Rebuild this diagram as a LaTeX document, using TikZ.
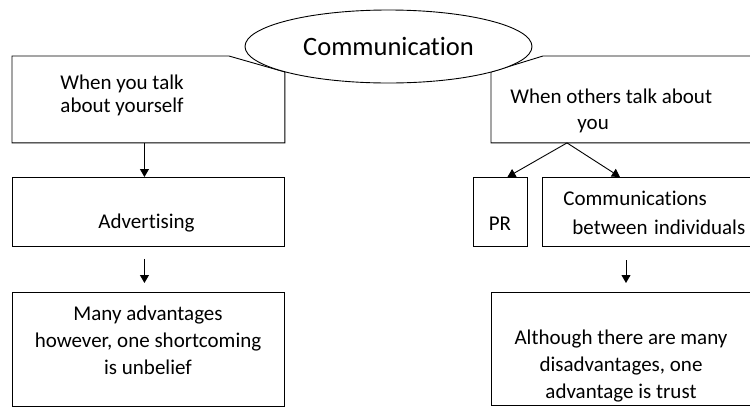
\documentclass[tikz,border=0pt]{standalone}
\usepackage{fontspec}
\setmainfont{Carlito}[Ligatures=NoCommon]
\usetikzlibrary{shapes.geometric,arrows.meta,calc}
\begin{document}
\begin{tikzpicture}[x=1pt,y=-1pt,line width=0.9pt,
  box/.style={draw,rectangle,inner sep=0pt,anchor=north west},
  ghost/.style={rectangle,inner sep=0pt,anchor=north west},
  txt/.style={inner sep=0pt,font=\fontsize{21}{27}\selectfont},
  arr/.style={-{Triangle[width=9pt,length=8pt]}}]
\useasboundingbox (0,0) rectangle (750,408);
\clip (0,0) rectangle (750,408);
% boxes
\node[ghost,minimum width=272pt,minimum height=86pt] (yself) at (12,56) {};
\node[ghost,minimum width=264pt,minimum height=86pt] (others) at (491,56) {};
\node[box,minimum width=272pt,minimum height=69pt] (adv) at (12,177) {};
\node[box,minimum width=54pt,minimum height=69pt] (pr) at (473,177) {};
\node[box,minimum width=213pt,minimum height=69pt] (comm) at (542,177) {};
\node[box,minimum width=272pt,minimum height=114pt] (many) at (12,292) {};
\node[box,minimum width=264pt,minimum height=113pt] (trust) at (491,292) {};
% chamfered top boxes
\draw ($(yself.north west)+(217,0)$) -- (yself.north west) -- (yself.south west)
  -- (yself.south east) -- ($(yself.north east)+(0,16)$) -- cycle;
\draw ($(others.north west)+(52,0)$) -- (others.north east) -- (others.south east)
  -- (others.south west) -- ($(others.north west)+(0,16)$) -- cycle;
% ellipse
\node[ellipse,draw,fill=white,minimum width=287pt,minimum height=73pt,inner sep=0pt,
  font=\fontsize{26.5}{30}\selectfont] (top) at (388.5,46.5) {Communication};
% texts
\node[txt,align=left,anchor=west,font=\fontsize{21}{23}\selectfont] (t1) at (60,95) {When you talk\\about yourself};
\node[txt,align=left,anchor=west,font=\fontsize{21}{26}\selectfont] (t2) at (510,111) {When others talk about\\\hspace*{67pt}you};
\node[txt] (t3) at (146.5,223) {Advertising};
\node[txt] (t4) at (500,224) {PR};
\node[txt,align=left,anchor=west,font=\fontsize{21}{29}\selectfont] (t5) at (563,213) {Communications\\\hspace*{9pt}between\hspace{6.5pt}individuals};
\node[txt,align=center] (t6) at (148,340) {Many advantages\\however, one shortcoming\\is unbelief};
\node[txt,align=center] (t7) at (621,366) {Although there are many\\disadvantages, one\\advantage is trust};
% connectors
\draw[arr] ($(yself.south)+(-4,0)$) -- ($(adv.north)+(-4,0)$);
\coordinate (a2s) at ($(adv.south)+(-4,12)$);
\coordinate (a2e) at ($(many.north)+(-4,-9)$);
\draw[arr] (a2s) -- (a2e);
\coordinate (split) at ($(others.south west)+(76,0)$);
\draw[arr] (split) -- ($(pr.north)+(7,0)$);
\draw[arr] (split) -- ($(comm.north west)+(78,0)$);
\coordinate (a3s) at ($(trust.north west)+(135,-32)$);
\coordinate (a3e) at ($(trust.north west)+(135,-9)$);
\draw[arr] (a3s) -- (a3e);
\end{tikzpicture}
\end{document}
